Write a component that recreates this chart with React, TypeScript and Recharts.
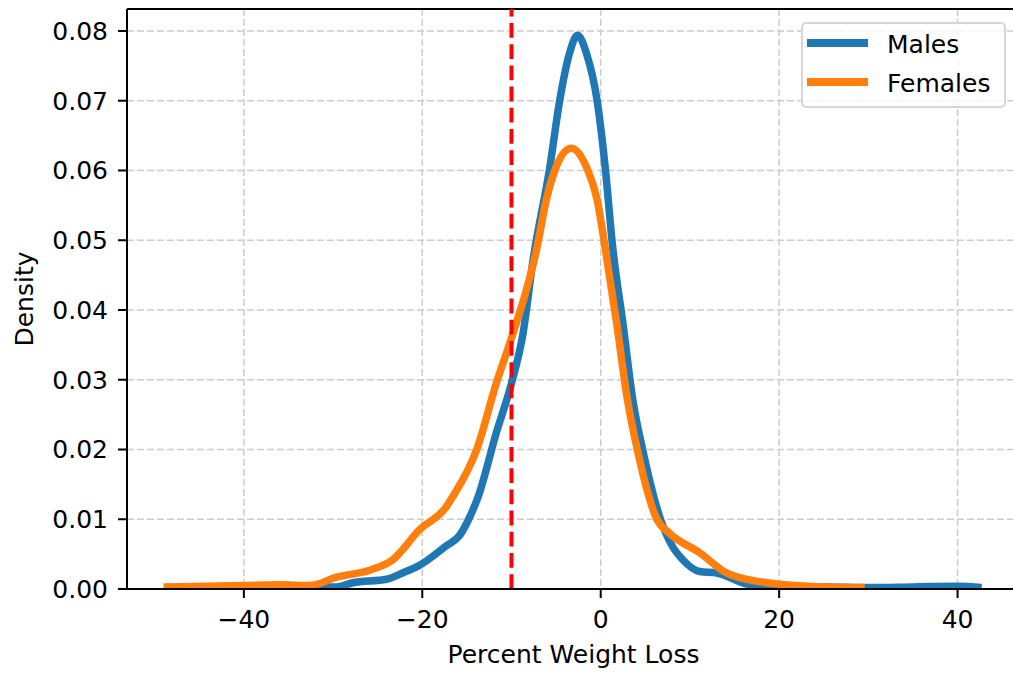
import {
  ComposedChart, Line, XAxis, YAxis, CartesianGrid, ReferenceLine, Label,
} from "recharts";

// Kernel density estimates (x = percent weight loss)
const MALE_X = [-40, -35, -31.5, -29.6, -27.8, -24, -22.2, -20.3, -17.3, -15.8, -14.8, -13.8, -11.7, -10, -8.7, -7.6, -5.7, -4.6, -3.5, -2.6, -1.6, -0.4, 0.5, 1.35, 2.5, 3.6, 4.7, 6.7, 8, 9.2, 11.1, 13, 16.7, 20, 25, 30, 35, 40, 42.7];
const MALE_Y = [0.0004, 0.0004, 0.0003, 0.0003, 0.0009, 0.0014, 0.0023, 0.0034, 0.0062, 0.0077, 0.0100, 0.0130, 0.0224, 0.0295, 0.0367, 0.0470, 0.0605, 0.0700, 0.0768, 0.0794, 0.0768, 0.0700, 0.0605, 0.0489, 0.0380, 0.0271, 0.0200, 0.0100, 0.0062, 0.0042, 0.0025, 0.0023, 0.0006, 0.0003, 0.0003, 0.0002, 0.0003, 0.0004, 0.0002];

const FEMALE_X = [-49, -44, -40, -36, -32.6, -29.6, -25.9, -23.3, -20.3, -17.3, -16.7, -13.9, -11.7, -10, -8.3, -7.2, -6.1, -5, -3.3, -1.6, -0.4, 0.5, 1.8, 3.0, 4.1, 6.3, 7.7, 11.1, 14.1, 16.7, 20, 25, 29.6];
const FEMALE_Y = [0.0003, 0.0004, 0.0005, 0.0006, 0.0005, 0.0017, 0.0027, 0.0042, 0.0085, 0.0118, 0.0130, 0.0200, 0.0295, 0.0360, 0.0430, 0.0486, 0.0558, 0.0605, 0.0632, 0.0605, 0.0558, 0.0489, 0.0380, 0.0271, 0.0200, 0.0100, 0.0080, 0.0052, 0.0023, 0.0013, 0.0007, 0.0003, 0.0002];

const X_TICKS = [-40, -20, 0, 20, 40];
const Y_TICKS = [0, 0.01, 0.02, 0.03, 0.04, 0.05, 0.06, 0.07, 0.08];
const X_DOMAIN = [-53.1, 47.0];
const Y_DOMAIN = [0, 0.08315];
const CUTOFF = -10;

const maleData = MALE_X.map((x, i) => ({ x, y: MALE_Y[i] }));
const femaleData = FEMALE_X.map((x, i) => ({ x, y: FEMALE_Y[i] }));

const FONT = '"DejaVu Sans", sans-serif';
const BLUE = "#1f77b4";
const ORANGE = "#ff7f0e";

const fmtX = (v: number) => (v < 0 ? `\u2212${Math.abs(v)}` : `${v}`);

const App = () => {
  return (
    <div style={{ position: "absolute", left: 0, top: 0, width: 1013, height: 675, overflow: "hidden", background: "#fff" }}>
      <ComposedChart
        width={1022}
        height={675}
        margin={{ top: 9, right: 2, bottom: 0, left: 0 }}
        style={{ fontFamily: FONT }}
      >
        <CartesianGrid stroke="#cccccc" strokeWidth={1.5} strokeDasharray="7 3" />
        <XAxis
          dataKey="x"
          type="number"
          domain={X_DOMAIN}
          ticks={X_TICKS}
          tickFormatter={fmtX}
          allowDataOverflow
          height={86}
          tickSize={9}
          tickMargin={12}
          stroke="#000"
          strokeWidth={2}
          tick={{ fontSize: 25, fill: "#000", fontFamily: FONT }}
        >
          <Label
            content={({ viewBox }: any) => (
              <text
                x={viewBox.x + viewBox.width / 2}
                y={663}
                textAnchor="middle"
                fontSize={25}
                fontFamily={FONT}
                fill="#000"
              >
                Percent Weight Loss
              </text>
            )}
          />
        </XAxis>
        <YAxis
          type="number"
          domain={Y_DOMAIN}
          ticks={Y_TICKS}
          tickFormatter={(v: number) => v.toFixed(2)}
          allowDataOverflow
          width={127}
          tickSize={9}
          tickMargin={10}
          stroke="#000"
          strokeWidth={2}
          tick={{ fontSize: 25, fill: "#000", fontFamily: FONT }}
        >
          <Label
            content={({ viewBox }: any) => {
              const cy = viewBox.y + viewBox.height / 2;
              return (
                <text
                  x={33}
                  y={cy}
                  transform={`rotate(-90, 33, ${cy})`}
                  textAnchor="middle"
                  fontSize={25}
                  fontFamily={FONT}
                  fill="#000"
                >
                  Density
                </text>
              );
            }}
          />
        </YAxis>
        <ReferenceLine y={Y_DOMAIN[1]} stroke="#000" strokeWidth={2} />
        <Line
          data={maleData}
          dataKey="y"
          type="monotone"
          stroke={BLUE}
          strokeWidth={7.5}
          dot={false}
          activeDot={false}
          isAnimationActive={false}
        />
        <Line
          data={femaleData}
          dataKey="y"
          type="monotone"
          stroke={ORANGE}
          strokeWidth={7.5}
          dot={false}
          activeDot={false}
          isAnimationActive={false}
        />
        <ReferenceLine x={CUTOFF} stroke="#ff0000" strokeWidth={4} strokeDasharray="14.8 6.4" />
      </ComposedChart>

      <div
        style={{
          position: "absolute",
          left: 801,
          top: 22,
          width: 205,
          height: 86,
          boxSizing: "border-box",
          border: "2px solid #d6d6d6",
          borderRadius: 5,
          background: "rgba(255,255,255,0.8)",
          fontFamily: FONT,
          fontSize: 25,
          lineHeight: "25px",
          color: "#000",
        }}
      >
        <div style={{ position: "absolute", left: 4, top: 15.25, width: 61, height: 7.5, background: BLUE }} />
        <div style={{ position: "absolute", left: 84, top: 7.85 }}>Males</div>
        <div style={{ position: "absolute", left: 4, top: 54.25, width: 61, height: 7.5, background: ORANGE }} />
        <div style={{ position: "absolute", left: 84, top: 46.85 }}>Females</div>
      </div>
    </div>
  );
};

export default App;
